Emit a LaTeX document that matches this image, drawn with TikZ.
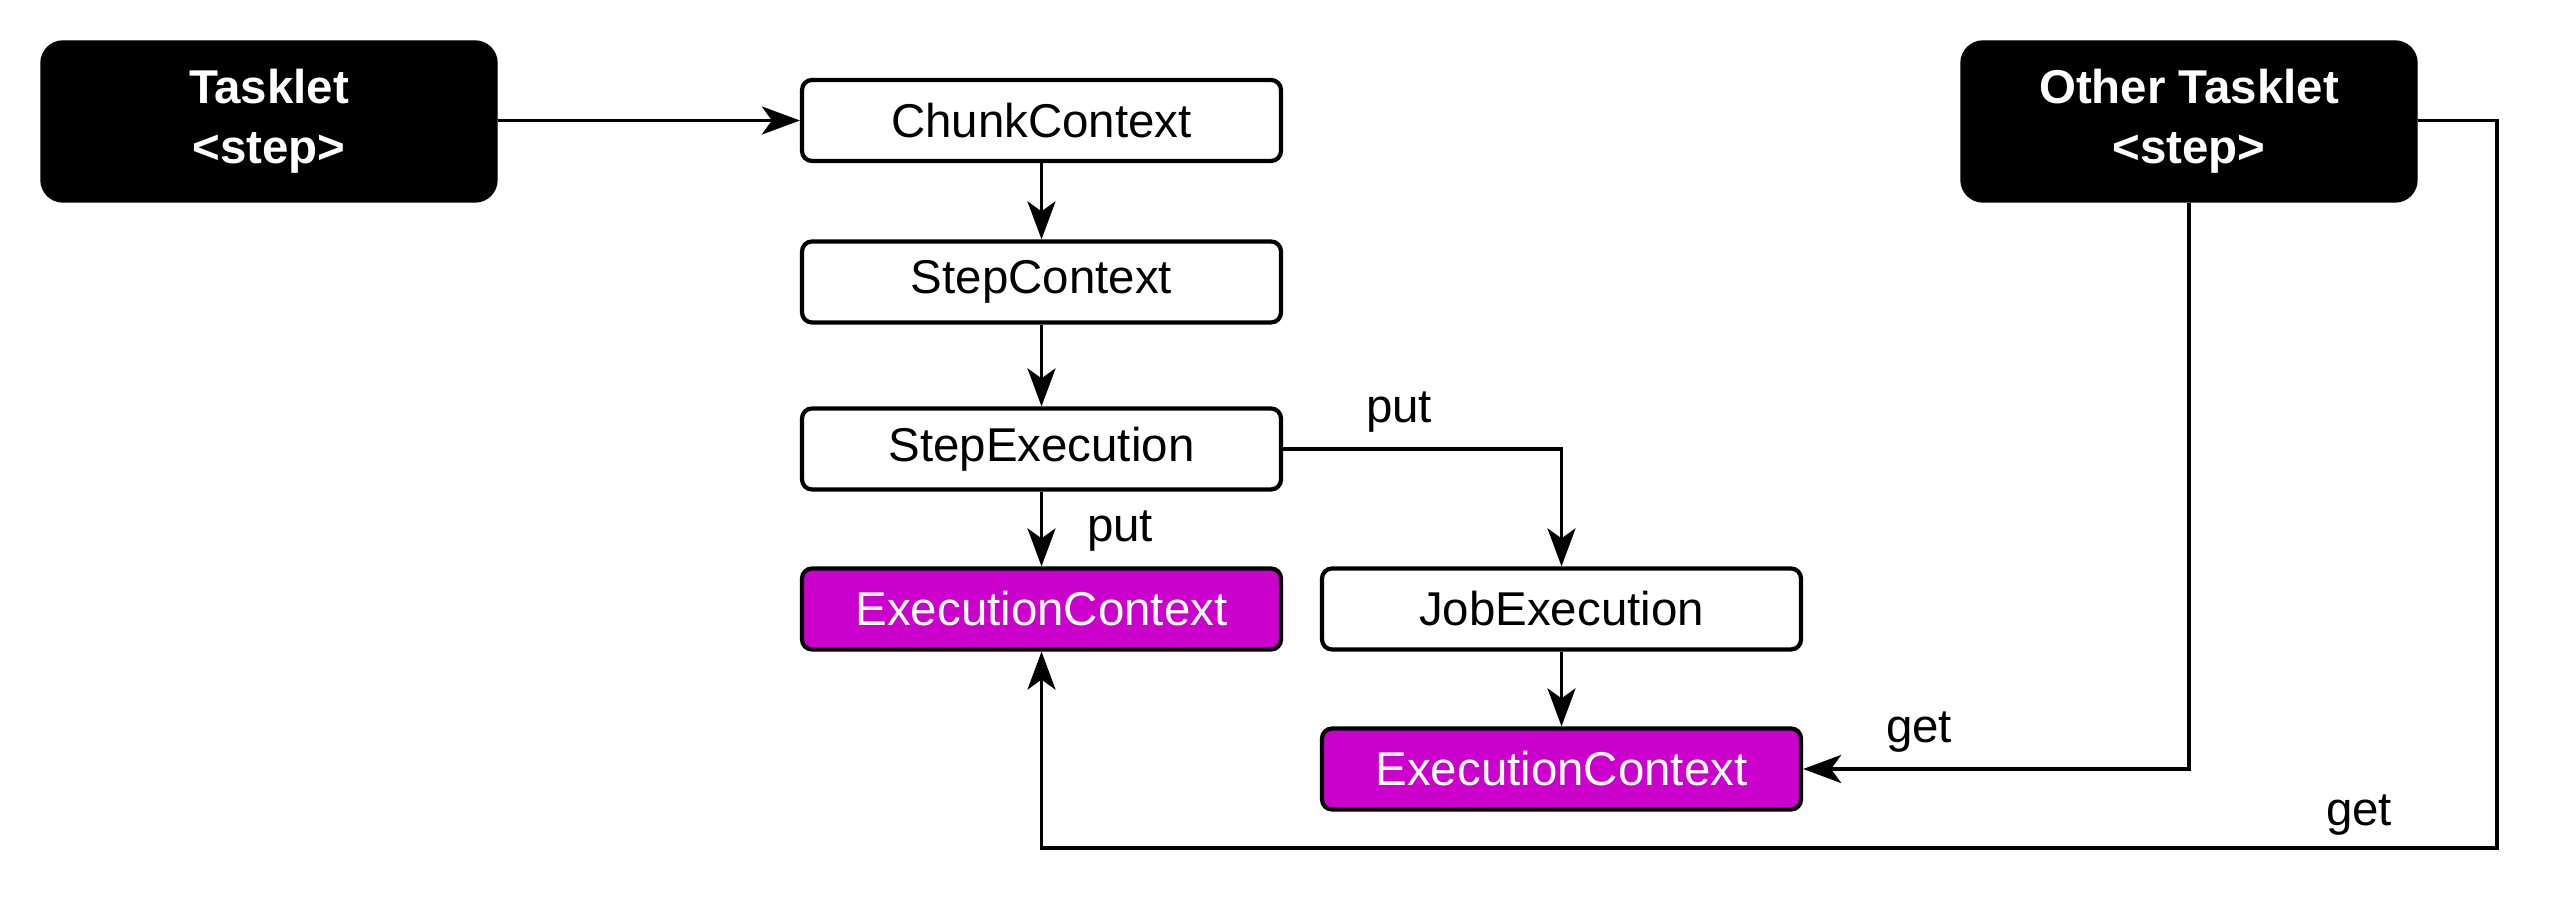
\documentclass[tikz,border=0pt]{standalone}
\usepackage{fontspec}
\setmainfont{Liberation Sans}
\usetikzlibrary{arrows.meta, positioning}
\definecolor{ctxmagenta}{HTML}{CC00CC}

\begin{document}
\begin{tikzpicture}[
    font=\fontsize{13.5}{17}\selectfont,
    objbox/.style={draw, line width=1.2pt, rounded corners=0.1cm, fill=white, minimum width=4.79cm, minimum height=0.81cm, inner sep=0pt},
    ctxbox/.style={objbox, fill=ctxmagenta, text=white},
    taskbox/.style={draw, fill=black, text=white, rounded corners=0.22cm, minimum width=4.56cm, minimum height=1.61cm, align=center, font=\fontsize{13.5}{17}\selectfont\bfseries},
    link/.style={-{Stealth[length=0.38cm, width=0.28cm, inset=0.1cm]}, line width=1pt},
    lbl/.style={inner sep=0pt}
  ]
  \useasboundingbox (0,0) rectangle (25.72,9.24);

  % Tasklets
  \node[taskbox] (tasklet) at (2.69,8.025) {Tasklet\\<step>};
  \node[taskbox] (other) at (21.89,8.025) {Other Tasklet\\<step>};

  % Context chain
  \node[objbox] (chunk) at (10.415,8.035) {ChunkContext};
  \node[objbox] (stepctx) at (10.415,6.42) {StepContext};
  \node[objbox] (stepexec) at (10.415,4.75) {StepExecution};
  \node[ctxbox] (ec1) at (10.415,3.15) {ExecutionContext};
  \node[objbox] (jobexec) at (15.615,3.15) {JobExecution};
  \node[ctxbox] (ec2) at (15.615,1.55) {ExecutionContext};

  % Arrows
  \draw[link] (tasklet.east |- chunk) -- (chunk);
  \draw[link] (chunk) -- (stepctx);
  \draw[link] (stepctx) -- (stepexec);
  \draw[link] (stepexec) -- (ec1);
  \draw[link] (stepexec.east) -| (jobexec.north);
  \draw[link] (jobexec) -- (ec2);
  \draw[link] (other.south) |- (ec2.east);
  \coordinate (corner) at (24.97,0.76);
  \draw[link] (other.east |- chunk) -| (corner) -| (ec1.south);

  % Labels
  \node[lbl] (put1) at (13.99,5.12) {put};
  \node[lbl] (put2) at (11.20,3.93) {put};
  \node[lbl] (get1) at (19.19,1.92) {get};
  \node[lbl] (get2) at (23.59,1.09) {get};
\end{tikzpicture}
\end{document}
